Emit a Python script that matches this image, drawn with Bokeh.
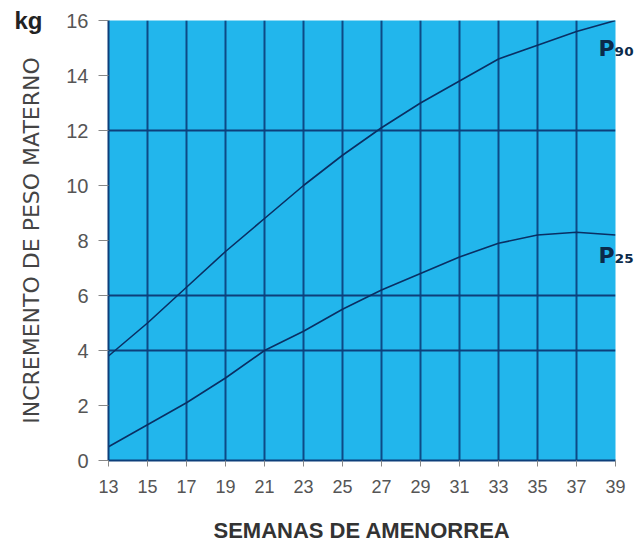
from bokeh.plotting import figure
from bokeh.models import FixedTicker, LinearAxis
from bokeh.embed import file_html
from bokeh.resources import INLINE

weeks = [13, 15, 17, 19, 21, 23, 25, 27, 29, 31, 33, 35, 37, 39]
p90 = [3.8, 5.0, 6.3, 7.6, 8.8, 10.0, 11.1, 12.1, 13.0, 13.8, 14.6, 15.1, 15.6, 16.0]
p25 = [0.5, 1.3, 2.1, 3.0, 4.0, 4.7, 5.5, 6.2, 6.8, 7.4, 7.9, 8.2, 8.3, 8.2]
x_ticks = list(range(13, 40, 2))
y_ticks = list(range(0, 17, 2))
y_grid = [4, 6, 12]
curve_names = {15.0: "P\u2089\u2080", 7.45: "P\u2082\u2085"}

p = figure(width=636, height=550, x_range=(13, 39), y_range=(0, 16),
           output_backend="svg", toolbar_location=None,
           min_border_left=108, min_border_right=14, min_border_top=20,
           min_border_bottom=90, outline_line_color=None)
p.background_fill_color = "#22b6ec"
p.border_fill_color = "white"

p.xaxis.ticker = FixedTicker(ticks=x_ticks)
p.yaxis.ticker = FixedTicker(ticks=y_ticks)
p.xgrid.ticker = FixedTicker(ticks=x_ticks)
p.ygrid.ticker = FixedTicker(ticks=y_grid)
p.xgrid.grid_line_color = "#0d4a86"
p.xgrid.grid_line_width = 2
p.ygrid.grid_line_color = "#0d3f7a"
p.ygrid.grid_line_width = 2

for ax in (p.xaxis, p.yaxis):
    ax.axis_line_color = "#0d3f7a"
    ax.axis_line_width = 2
    ax.major_tick_line_color = "#888888"
    ax.minor_tick_line_color = None
    ax.major_tick_in = 0
    ax.major_label_text_font = "Liberation Sans"
    ax.major_label_text_color = "#555555"

p.xaxis.major_label_text_font_size = "18px"
p.xaxis.major_tick_out = 6
p.xaxis.major_label_standoff = 13
p.xaxis.axis_label = "SEMANAS DE AMENORREA"
p.xaxis.axis_label_text_font = "Liberation Sans"
p.xaxis.axis_label_text_font_size = "22px"
p.xaxis.axis_label_text_font_style = "bold"
p.xaxis.axis_label_text_color = "#333333"
p.xaxis.axis_label_standoff = 22

p.yaxis.major_label_text_font_size = "20px"
p.yaxis.major_tick_out = 10
p.yaxis.major_label_standoff = 10

# outer left axis: "kg" unit label plus the y-axis title
kg_axis = LinearAxis(ticker=FixedTicker(ticks=[16]),
                     major_label_overrides={16: "kg"},
                     axis_line_color=None, major_tick_line_color=None,
                     minor_tick_line_color=None, major_tick_out=0, major_tick_in=0,
                     major_label_standoff=21,
                     major_label_text_font="Liberation Sans",
                     major_label_text_font_size="24px",
                     major_label_text_font_style="bold",
                     major_label_text_color="#222222",
                     axis_label="INCREMENTO DE PESO MATERNO",
                     axis_label_text_font="DejaVu Sans",
                     axis_label_text_font_size="22px",
                     axis_label_text_font_style="normal",
                     axis_label_text_color="#444444",
                     axis_label_standoff=-33)
p.add_layout(kg_axis, "left")

# right axis used for the curve names
name_axis = LinearAxis(ticker=FixedTicker(ticks=list(curve_names.keys())),
                       major_label_overrides=curve_names,
                       axis_line_color=None, major_tick_line_color=None,
                       minor_tick_line_color=None, major_tick_out=0, major_tick_in=0,
                       major_label_standoff=-17,
                       major_label_text_font="DejaVu Sans",
                       major_label_text_font_size="22px",
                       major_label_text_font_style="bold",
                       major_label_text_color="#0b2a4a")
p.add_layout(name_axis, "right")

p.line(weeks, p90, line_color="#0a2f63", line_width=1.6)
p.line(weeks, p25, line_color="#0a2f63", line_width=1.6)

open("out.html", "w").write(file_html(p, INLINE))
